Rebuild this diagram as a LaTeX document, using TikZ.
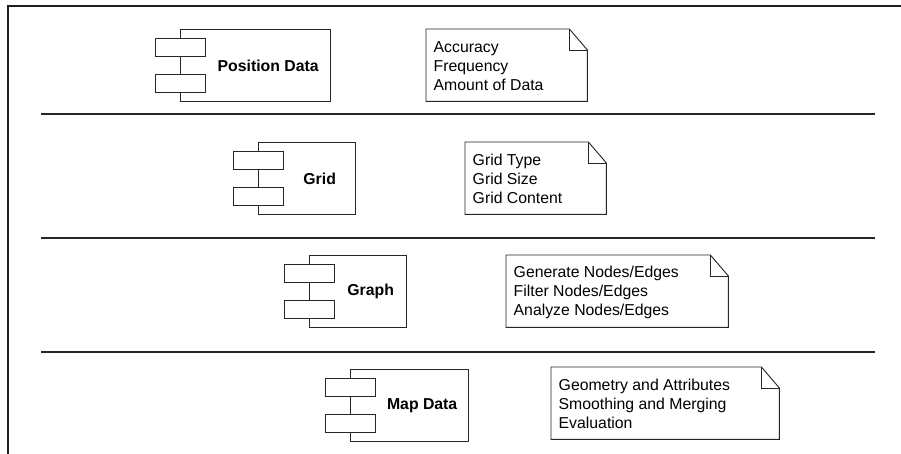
\documentclass[tikz,border=0pt]{standalone}
\usepackage{fontspec}
\setmainfont{Liberation Sans}
\usetikzlibrary{calc}

\tikzset{
  frameline/.style={line width=1.6pt, draw=black!88},
  sepline/.style={line width=1.5pt, draw=black!85},
  compbox/.style={rectangle, draw=black!85, line width=0.9pt, fill=white, inner sep=0pt},
  comptab/.style={rectangle, draw=black!85, line width=0.9pt, fill=white, inner sep=0pt,
    minimum width=50pt, minimum height=18pt},
  complabel/.style={inner sep=0pt, font=\fontsize{15.8}{19}\selectfont\bfseries},
  noteshape/.style={draw=black!85, line width=0.9pt, fill=white},
  notearea/.style={rectangle, inner sep=0pt},
  notetext/.style={inner sep=0pt, anchor=west, align=left,
    font=\fontsize{15.8}{19}\selectfont}
}

% component: box name, left, top, width, height, label
\newcommand{\umlcomponent}[6]{%
  \node[compbox, anchor=north west, minimum width=#4pt, minimum height=#5pt] (#1) at (#2,#3) {};
  \node[comptab, anchor=north] (#1-tabA) at ([yshift=-9pt]#1.north west) {};
  \node[comptab, anchor=south] (#1-tabB) at ([yshift=9pt]#1.south west) {};
  \node[complabel] (#1-label) at ($(#1-tabA.east |- #1.center)!0.5!(#1.east)$) {#6};
}

% note with folded corner: name, left, top, width, height, text
\newcommand{\umlnote}[6]{%
  \node[notearea, anchor=north west, minimum width=#4pt, minimum height=#5pt] (#1) at (#2,#3) {};
  \draw[noteshape] (#1.north west) -- ([xshift=-18pt]#1.north east)
    -- ([yshift=-21pt]#1.north east) -- (#1.south east) -- (#1.south west) -- cycle;
  \draw[noteshape, fill=none] ([xshift=-18pt]#1.north east) |- ([yshift=-21pt]#1.north east);
  \node[notetext] (#1-text) at ([xshift=7.5pt, yshift=-1pt]#1.west) {#6};
}

\begin{document}
\begin{tikzpicture}[x=1pt, y=-1pt]
  \useasboundingbox (0,0) rectangle (901,454);

  % outer frame (top and left edges)
  \coordinate (fTL) at (8,6);
  \coordinate (fTR) at (901,6);
  \coordinate (fBL) at (8,454);
  \draw[frameline] (fTR) -- (fTL) -- (fBL);

  % layer separators
  \coordinate (s1a) at (41,114);  \coordinate (s1b) at (875,114);
  \coordinate (s2a) at (41,238);  \coordinate (s2b) at (875,238);
  \coordinate (s3a) at (41,352);  \coordinate (s3b) at (875,352);
  \draw[sepline] (s1a) -- (s1b);
  \draw[sepline] (s2a) -- (s2b);
  \draw[sepline] (s3a) -- (s3b);

  % layer 1
  \umlcomponent{pos}{180}{29}{150}{72}{Position Data}
  \umlnote{posnote}{426}{29}{161}{72}{Accuracy\\Frequency\\Amount of Data}

  % layer 2
  \umlcomponent{grid}{258}{142}{97}{72}{Grid}
  \umlnote{gridnote}{465}{142}{141}{72}{Grid Type\\Grid Size\\Grid Content}

  % layer 3
  \umlcomponent{graph}{309}{255}{97}{72}{Graph}
  \umlnote{graphnote}{506}{255}{222}{72}{Generate Nodes/Edges\\Filter Nodes/Edges\\Analyze Nodes/Edges}

  % layer 4
  \umlcomponent{map}{350}{369}{118}{72}{Map Data}
  \umlnote{mapnote}{551}{367}{228}{72}{Geometry and Attributes\\Smoothing and Merging\\Evaluation}
\end{tikzpicture}
\end{document}
